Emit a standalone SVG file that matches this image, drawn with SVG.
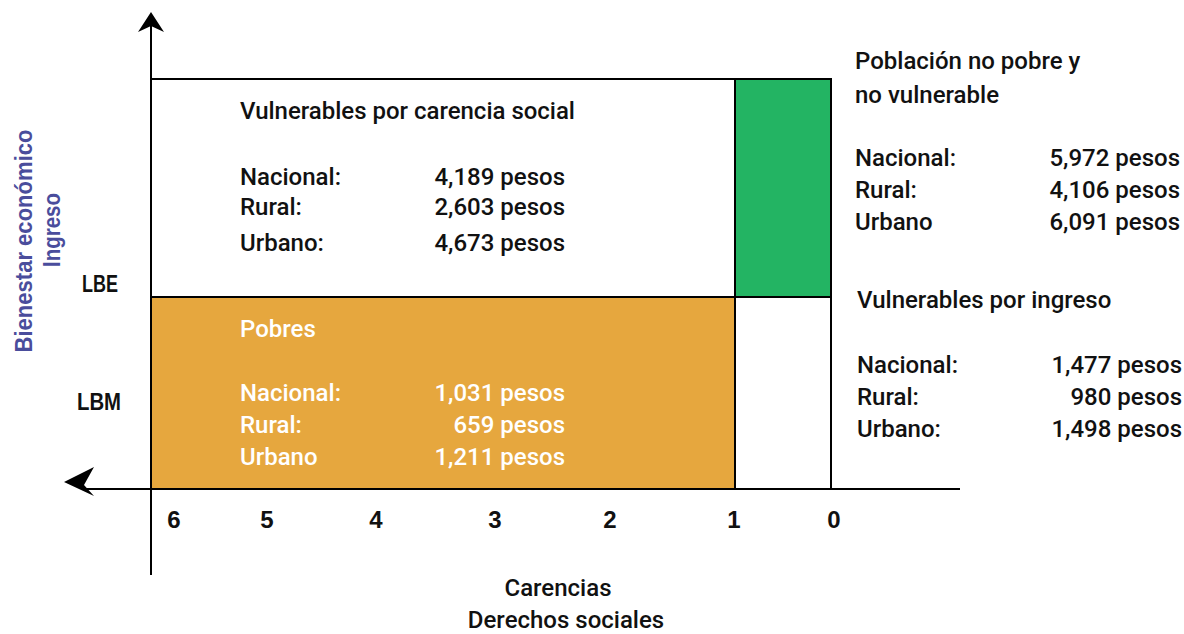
<svg xmlns="http://www.w3.org/2000/svg" width="1184" height="634" viewBox="0 0 1184 634">
<style>
text{font-family:"Roboto","Liberation Sans",Arial,sans-serif;font-weight:500;font-size:24px;fill:#111}
.w{fill:#fff}
.end{text-anchor:end}
.mid{text-anchor:middle}
.ax{stroke:#000;stroke-width:2;fill:none}
.box{stroke:#000;stroke-width:2}
.cond{font-family:"Liberation Sans",Arial,sans-serif;font-weight:bold}
.ylab{font-family:"Liberation Sans",Arial,sans-serif;font-weight:bold;font-size:24px;fill:#4A4D9C;text-anchor:middle}
</style>
<rect width="1184" height="634" fill="#fff"/>

<g id="vulnerables-carencia">
<rect class="box" x="151" y="79" width="584" height="218" fill="#fff"/>
<text x="240" y="119" textLength="335" lengthAdjust="spacingAndGlyphs">Vulnerables por carencia social</text>
<text x="240" y="185">Nacional:</text><text class="end" x="565" y="185">4,189 pesos</text>
<text x="240" y="215">Rural:</text><text class="end" x="565" y="215">2,603 pesos</text>
<text x="240" y="251">Urbano:</text><text class="end" x="565" y="251">4,673 pesos</text>
</g>

<g id="pobres">
<rect class="box" x="151" y="297" width="584" height="192" fill="#E6A73E"/>
<text class="w" x="240" y="337">Pobres</text>
<text class="w" x="240" y="401">Nacional:</text><text class="w end" x="565" y="401">1,031 pesos</text>
<text class="w" x="240" y="433">Rural:</text><text class="w end" x="565" y="433">659 pesos</text>
<text class="w" x="240" y="465">Urbano</text><text class="w end" x="565" y="465">1,211 pesos</text>
</g>

<g id="no-pobre-no-vulnerable">
<rect class="box" x="735" y="79" width="96" height="218" fill="#23B463"/>
<text x="855" y="69">Población no pobre y</text>
<text x="855" y="103">no vulnerable</text>
<text x="855" y="166">Nacional:</text><text class="end" x="1180" y="166">5,972 pesos</text>
<text x="855" y="198">Rural:</text><text class="end" x="1180" y="198">4,106 pesos</text>
<text x="855" y="230">Urbano</text><text class="end" x="1180" y="230">6,091 pesos</text>
</g>

<g id="vulnerables-ingreso">
<rect class="box" x="735" y="297" width="96" height="192" fill="#fff"/>
<text x="857" y="308">Vulnerables por ingreso</text>
<text x="857" y="373">Nacional:</text><text class="end" x="1182" y="373">1,477 pesos</text>
<text x="857" y="405">Rural:</text><text class="end" x="1182" y="405">980 pesos</text>
<text x="857" y="437">Urbano:</text><text class="end" x="1182" y="437">1,498 pesos</text>
</g>

<g id="connectors">
<line class="ax" x1="151" y1="24" x2="151" y2="575"/>
<path d="M151,12 L164,32 L151,26 L138,32 Z" fill="#000"/>
<line class="ax" x1="84" y1="489" x2="960" y2="489"/>
<path d="M64,482 L94,467 L84,485 L94,496 Z" fill="#000"/>
</g>

<g id="axis-labels">
<text class="cond" x="82" y="292" font-size="27" textLength="36" lengthAdjust="spacingAndGlyphs">LBE</text>
<text class="cond" x="77" y="410" font-size="27" textLength="44" lengthAdjust="spacingAndGlyphs">LBM</text>
<text class="ylab" transform="translate(32,241) rotate(-90)" textLength="223" lengthAdjust="spacingAndGlyphs">Bienestar económico</text>
<text class="ylab" transform="translate(60,230) rotate(-90)" textLength="74" lengthAdjust="spacingAndGlyphs">Ingreso</text>
<g class="nums">
<text class="cond mid" x="174" y="528" font-size="21">6</text>
<text class="cond mid" x="267" y="528" font-size="21">5</text>
<text class="cond mid" x="376" y="528" font-size="21">4</text>
<text class="cond mid" x="495" y="528" font-size="21">3</text>
<text class="cond mid" x="610" y="528" font-size="21">2</text>
<text class="cond mid" x="734" y="528" font-size="21">1</text>
<text class="cond mid" x="834" y="528" font-size="21">0</text>
</g>
<text class="mid" x="558" y="596">Carencias</text>
<text class="mid" x="566" y="628">Derechos sociales</text>
</g>
</svg>
